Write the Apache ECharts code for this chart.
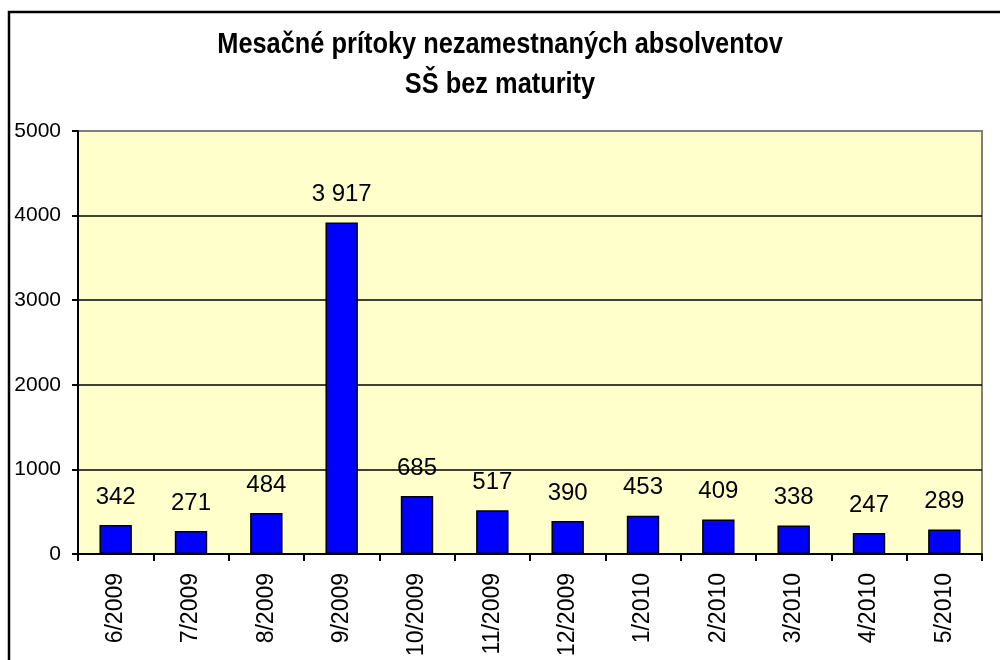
<!DOCTYPE html>
<html>
<head>
<meta charset="utf-8">
<script src="https://cdn.jsdelivr.net/npm/echarts@6/dist/echarts.min.js"></script>
<style>
  html, body { margin: 0; padding: 0; background: #ffffff; }
  #chart { width: 1000px; height: 660px; }
</style>
</head>
<body>
<div id="chart"></div>
<script>
// Monthly inflows of unemployed secondary-school graduates (without maturita)
const months = ['6/2009', '7/2009', '8/2009', '9/2009', '10/2009', '11/2009',
                '12/2009', '1/2010', '2/2010', '3/2010', '4/2010', '5/2010'];
const inflows = [342, 271, 484, 3917, 685, 517, 390, 453, 409, 338, 247, 289];
const yTicks = [0, 1000, 2000, 3000, 4000, 5000];

const titleLines = ['Mesačné prítoky nezamestnaných absolventov', 'SŠ bez maturity'];
const font = 'Arial, "Liberation Sans", sans-serif';

// thousands separated by a space, e.g. 3 917
function spaced(v) {
  return String(v).replace(/\B(?=(\d{3})+(?!\d))/g, ' ');
}

// condensed bold title line, centred horizontally
function titleLine(text, y) {
  return {
    type: 'text',
    x: 500,
    y: y,
    scaleX: 0.875,
    style: {
      text: text,
      font: 'bold 29px ' + font,
      fill: '#000',
      align: 'center',
      verticalAlign: 'middle'
    }
  };
}

const chart = echarts.init(document.getElementById('chart'), null, { renderer: 'canvas' });

chart.setOption({
  animation: false,
  backgroundColor: '#ffffff',
  textStyle: { fontFamily: font },
  graphic: [
    {
      // outer chart frame
      type: 'polyline',
      shape: { points: [[9, 700], [9, 12], [1010, 12]] },
      style: { stroke: '#000', lineWidth: 2.5, fill: null }
    },
    titleLine(titleLines[0], 45),
    titleLine(titleLines[1], 85)
  ],
  grid: {
    left: 78,
    right: 18,
    top: 131,
    bottom: 106,
    show: true,
    backgroundColor: '#FFFFCC',
    borderColor: '#808080',
    borderWidth: 2
  },
  xAxis: {
    type: 'category',
    data: months,
    boundaryGap: true,
    axisLine: { show: true, lineStyle: { color: '#000', width: 2 } },
    axisTick: { show: true, alignWithLabel: false, length: 7, lineStyle: { color: '#000', width: 2 } },
    axisLabel: {
      interval: 0,
      rotate: 90,
      margin: 19,
      fontSize: 23,
      color: '#000',
      fontFamily: font
    }
  },
  yAxis: {
    type: 'value',
    min: 0,
    max: 5000,
    interval: 1000,
    axisLine: { show: true, lineStyle: { color: '#000', width: 2 } },
    axisTick: { show: true, length: 6, lineStyle: { color: '#000', width: 2 } },
    splitLine: {
      show: true,
      // the top line sits on the grey plot border
      lineStyle: { color: ['#000', '#000', '#000', '#000', '#000', '#808080'], width: 1.5 }
    },
    axisLabel: {
      margin: 17,
      fontSize: 21,
      color: '#000',
      fontFamily: font,
      formatter: function (v) { return yTicks.indexOf(v) >= 0 ? String(v) : ''; }
    }
  },
  series: [
    {
      type: 'bar',
      data: inflows,
      barWidth: '43%',
      itemStyle: { color: '#0000FF', borderColor: '#000', borderWidth: 1.5 },
      label: {
        show: true,
        position: 'top',
        distance: 16,
        fontSize: 24,
        color: '#000',
        fontFamily: font,
        formatter: function (p) { return spaced(p.value); }
      }
    }
  ]
});
</script>
</body>
</html>
